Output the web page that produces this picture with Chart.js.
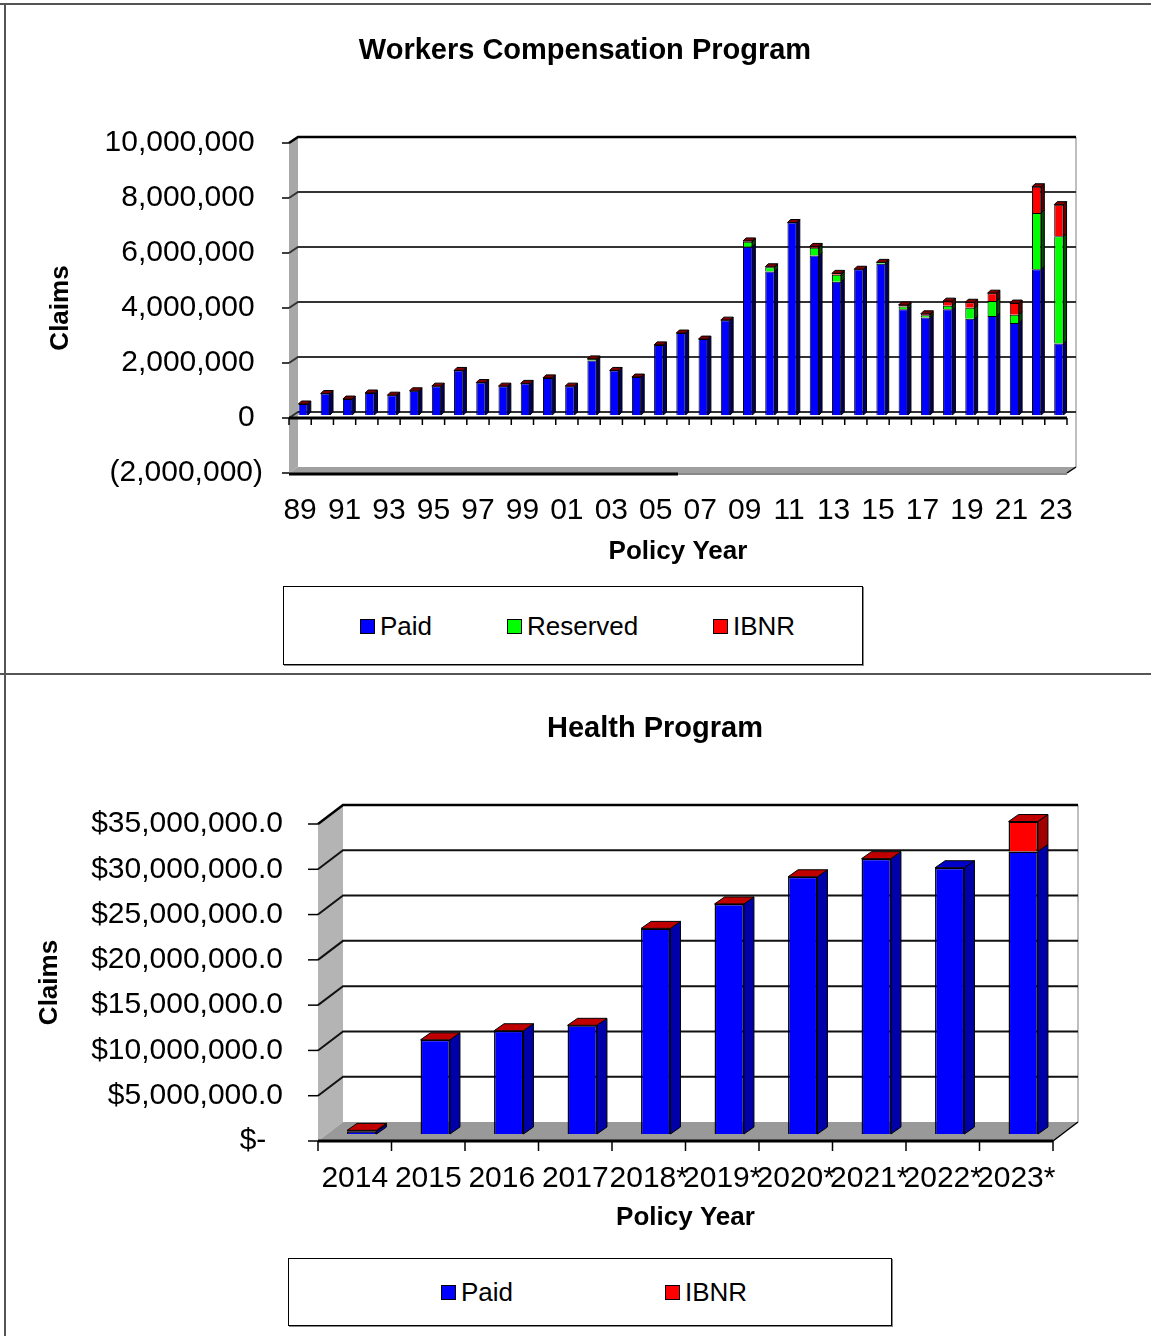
<!DOCTYPE html>
<html>
<head>
<meta charset="utf-8">
<title>Workers Compensation / Health Program claims</title>
<script src="https://cdn.jsdelivr.net/npm/chart.js@4.4.1/dist/chart.umd.min.js"></script>
<style>
  body { margin: 0; background: #fff; font-family: "Liberation Sans", Arial, sans-serif; }
  #page { position: relative; width: 1151px; height: 1336px; overflow: hidden; background: #fff; }
  canvas { position: absolute; left: 0; }
  .rule { position: absolute; background: #555; }
  .title { position: absolute; left: 0; font-size: 29px; font-weight: bold; line-height: 34px; text-align: center; }
  .legend { position: absolute; border: 1px solid #000; box-shadow: 1px 1px 0 #888; background: #fff; }
  .legend .item { position: absolute; font-size: 26px; line-height: 30px; white-space: nowrap; }
  .legend .sw { display: inline-block; width: 13px; height: 13px; border: 1px solid #000; margin-right: 5px; vertical-align: 1px; }
</style>
</head>
<body>
<div id="page">
  <canvas id="wc-chart" width="1151" height="580" style="top:0"></canvas>
  <canvas id="hp-chart" width="1151" height="570" style="top:680px"></canvas>

  <div class="rule" style="left:0;top:3px;width:1151px;height:2px"></div>
  <div class="rule" style="left:4px;top:3px;width:2px;height:1333px"></div>
  <div class="rule" style="left:0;top:673px;width:1151px;height:2px"></div>

  <div class="title" style="top:32px;width:1170px">Workers Compensation Program</div>
  <div class="title" style="top:710px;width:1310px">Health Program</div>

  <div class="legend" style="left:283px;top:586px;width:578px;height:77px">
    <div class="item" style="left:76px;top:24px"><span class="sw" style="background:#0000ff"></span>Paid</div>
    <div class="item" style="left:223px;top:24px"><span class="sw" style="background:#00ff00"></span>Reserved</div>
    <div class="item" style="left:429px;top:24px"><span class="sw" style="background:#ff0000"></span>IBNR</div>
  </div>
  <div class="legend" style="left:288px;top:1258px;width:602px;height:66px">
    <div class="item" style="left:152px;top:18px"><span class="sw" style="background:#0000ff"></span>Paid</div>
    <div class="item" style="left:376px;top:18px"><span class="sw" style="background:#ff0000"></span>IBNR</div>
  </div>
</div>

<script>
// ── Workers Compensation data (policy years 1989–2023) ──
const wcYears = ["89", "90", "91", "92", "93", "94", "95", "96", "97", "98", "99", "00",
                 "01", "02", "03", "04", "05", "06", "07", "08", "09", "10", "11", "12",
                 "13", "14", "15", "16", "17", "18", "19", "20", "21", "22", "23"];
const wcPaid = [400000, 780000, 580000, 800000, 720000, 880000, 1050000, 1620000, 1180000,
                1050000, 1150000, 1350000, 1050000, 1980000, 1620000, 1380000, 2550000,
                2980000, 2760000, 3450000, 6120000, 5220000, 7000000, 5800000, 4850000,
                5300000, 5500000, 3850000, 3550000, 3850000, 3500000, 3600000, 3350000,
                5300000, 2600000];
const wcReserved = [0, 0, 0, 0, 0, 0, 0, 0, 0, 0, 0, 0, 0, 60000, 0, 0, 0, 0, 0, 0,
                    180000, 150000, 0, 280000, 250000, 0, 50000, 100000, 80000, 120000,
                    400000, 550000, 300000, 2050000, 3900000];
const wcIbnr = [0, 0, 0, 0, 0, 0, 0, 0, 0, 0, 0, 0, 0, 0, 0, 0, 0, 0, 0, 0,
                30000, 20000, 0, 50000, 50000, 0, 0, 50000, 50000, 170000,
                200000, 280000, 420000, 950000, 1150000];
const wcYTicks = [-2000000, 0, 2000000, 4000000, 6000000, 8000000, 10000000];

// ── Health Program data ──
const hpYears = ["2014", "2015", "2016", "2017", "2018*", "2019*", "2020*", "2021*", "2022*", "2023*"];
const hpPaid = [300000, 10400000, 11400000, 12000000, 22700000, 25400000, 28400000, 30400000, 29400000, 31200000];
const hpIbnr = [100000, 0, 0, 0, 0, 0, 0, 0, null, 3300000];
const hpYTicks = [0, 5000000, 10000000, 15000000, 20000000, 25000000, 30000000, 35000000];

Chart.defaults.font.family = "'Liberation Sans', Arial, sans-serif";
Chart.defaults.color = "#000";

// ── Fake 3D: walls, floor, back gridlines, bar sides and tops ──
function poly(ctx, pts, fill) {
  ctx.beginPath();
  ctx.moveTo(pts[0][0], pts[0][1]);
  for (let i = 1; i < pts.length; i++) ctx.lineTo(pts[i][0], pts[i][1]);
  ctx.closePath();
  ctx.fillStyle = fill;
  ctx.fill();
  ctx.stroke();
}

function line(ctx, x1, y1, x2, y2) {
  ctx.beginPath();
  ctx.moveTo(x1, y1);
  ctx.lineTo(x2, y2);
  ctx.stroke();
}

const fake3d = {
  id: "fake3d",
  beforeDatasetsDraw(chart, args, o) {
    const { ctx, chartArea: a, scales: { y } } = chart;
    const wx = o.wallX, wy = o.wallY;
    ctx.save();
    ctx.strokeStyle = "rgba(0,0,0,0)";
    poly(ctx, [[a.left, a.top], [a.left + wx, a.top - wy], [a.left + wx, a.bottom - wy], [a.left, a.bottom]], o.wallColor);
    poly(ctx, [[a.left, a.bottom], [a.left + wx, a.bottom - wy], [a.right + wx, a.bottom - wy], [a.right, a.bottom]], o.floorColor);

    // back wall right edge
    ctx.strokeStyle = "#aaa";
    ctx.lineWidth = 1.5;
    line(ctx, a.right + wx, a.top - wy, a.right + wx, a.bottom - wy);

    // gridlines, running along the side wall then the back wall
    y.ticks.forEach(t => {
      if (t.value === y.min) return;
      const py = y.getPixelForValue(t.value);
      ctx.strokeStyle = t.value === y.max ? "#000" : o.gridColor;
      ctx.lineWidth = t.value === y.max ? 2.5 : 2;
      ctx.beginPath();
      ctx.moveTo(a.left, py);
      ctx.lineTo(a.left + wx, py - wy);
      ctx.lineTo(a.right + wx, py - wy);
      ctx.stroke();
    });

    // front value-axis tick marks
    ctx.strokeStyle = "#000";
    ctx.lineWidth = 1.5;
    y.ticks.forEach(t => {
      const py = y.getPixelForValue(t.value);
      line(ctx, a.left - o.tickLen, py, a.left, py);
    });
    ctx.restore();

    ctx.save();
    ctx.translate(o.barX, -o.barY);
  },
  afterDatasetsDraw(chart, args, o) {
    const { ctx, data, chartArea: a, scales: { y } } = chart;
    const dx = o.depthX, dy = o.depthY;
    ctx.lineWidth = 1;
    ctx.strokeStyle = "#000";

    data.datasets.forEach((ds, i) => {
      chart.getDatasetMeta(i).data.forEach((bar, j) => {
        if (!ds.data[j]) return;
        const { x, y: top, base, width } = bar.getProps(["x", "y", "base", "width"], true);
        const r = x + width / 2;
        poly(ctx, [[r, top], [r + dx, top - dy], [r + dx, base - dy], [r, base]], ds.sideColor);
      });
    });

    for (let j = 0; j < data.labels.length; j++) {
      let top = -1;
      data.datasets.forEach((ds, i) => { if (ds.data[j] != null) top = i; });
      if (top < 0) continue;
      const { x, y: ty, width } = chart.getDatasetMeta(top).data[j].getProps(["x", "y", "width"], true);
      const l = x - width / 2, r = x + width / 2;
      poly(ctx, [[l, ty], [l + dx, ty - dy], [r + dx, ty - dy], [r, ty]], data.datasets[top].topColor);
    }
    ctx.restore();

    // category axis at zero, with tick marks between categories
    ctx.save();
    const y0 = y.getPixelForValue(0);
    ctx.strokeStyle = "#000";
    ctx.lineWidth = 3;
    line(ctx, a.left, y0, a.right, y0);
    ctx.lineWidth = 1.5;
    const n = data.labels.length;
    for (let k = 0; k <= n; k++) {
      const px = a.left + k * (a.right - a.left) / n;
      line(ctx, px, y0, px, y0 + o.tickLen);
    }
    // front edge of the floor
    if (y.min < 0) {
      const split = a.left + (a.right - a.left) * 0.5;
      ctx.lineWidth = 3;
      line(ctx, a.left, a.bottom + 1, split, a.bottom + 1);
      ctx.strokeStyle = "#888";
      ctx.lineWidth = 2;
      line(ctx, split, a.bottom + 1, a.right, a.bottom + 1);
    }
    ctx.strokeStyle = "#000";
    ctx.lineWidth = 1.5;
    line(ctx, a.right, a.bottom, a.right + o.wallX, a.bottom - o.wallY);
    ctx.restore();
  }
};

function axisTitle(text, padding) {
  return { display: true, text, font: { size: 26, weight: "bold" }, padding };
}

// ── Workers Compensation chart ──
new Chart(document.getElementById("wc-chart"), {
  type: "bar",
  data: {
    labels: wcYears,
    datasets: [
      { label: "Paid", data: wcPaid, backgroundColor: "#0000ff", sideColor: "#000060", topColor: "#000080" },
      { label: "Reserved", data: wcReserved, backgroundColor: "#00ff00", sideColor: "#005000", topColor: "#007000" },
      { label: "IBNR", data: wcIbnr, backgroundColor: "#ff0000", sideColor: "#600000", topColor: "#800000" },
    ],
  },
  options: {
    responsive: false,
    animation: false,
    layout: { padding: { left: 0, right: 84, top: 143, bottom: 0 } },
    datasets: { bar: { barPercentage: 0.42, categoryPercentage: 1, borderColor: "#000", borderWidth: 1, clip: false } },
    plugins: {
      legend: { display: false },
      tooltip: { enabled: false },
      fake3d: { wallX: 9, wallY: 6, barX: 3, barY: 3, depthX: 3, depthY: 3, tickLen: 7,
                wallColor: "#a8a8a8", floorColor: "#a0a0a0", gridColor: "#333" },
    },
    scales: {
      x: {
        stacked: true,
        grid: { display: false },
        border: { display: false },
        ticks: {
          autoSkip: false, maxRotation: 0, padding: 12, font: { size: 30 },
          callback: (v, i) => (i % 2 === 0 ? wcYears[i] : ""),
        },
        title: axisTitle("Policy Year", { top: 0, bottom: 13 }),
        afterFit: s => { s.height = 580 - 473; },
      },
      y: {
        stacked: true,
        min: -2000000,
        max: 10000000,
        grid: { display: false },
        border: { display: false },
        afterBuildTicks: s => { s.ticks = wcYTicks.map(v => ({ value: v })); },
        ticks: {
          padding: 18, font: { size: 30 },
          callback: v => (v < 0 ? "(" + Math.abs(v).toLocaleString("en-US") + ")" : v.toLocaleString("en-US") + " "),
        },
        title: axisTitle("Claims", { top: 45, bottom: 0 }),
        afterFit: s => { s.width = 289; },
      },
    },
  },
  plugins: [fake3d],
});

// ── Health Program chart ──
new Chart(document.getElementById("hp-chart"), {
  type: "bar",
  data: {
    labels: hpYears,
    datasets: [
      { label: "Paid", data: hpPaid, backgroundColor: "#0000ff", sideColor: "#0000a8", topColor: "#0000c8" },
      { label: "IBNR", data: hpIbnr, backgroundColor: "#ff0000", sideColor: "#a00000", topColor: "#c00000" },
    ],
  },
  options: {
    responsive: false,
    animation: false,
    layout: { padding: { left: 0, right: 98, top: 144, bottom: 0 } },
    datasets: { bar: { barPercentage: 0.4, categoryPercentage: 1, borderColor: "#000", borderWidth: 1.5, clip: false } },
    plugins: {
      legend: { display: false },
      tooltip: { enabled: false },
      fake3d: { wallX: 25, wallY: 19, barX: 7, barY: 7, depthX: 10, depthY: 7, tickLen: 10,
                wallColor: "#b4b4b4", floorColor: "#999", gridColor: "#111" },
    },
    scales: {
      x: {
        stacked: true,
        grid: { display: false },
        border: { display: false },
        ticks: { autoSkip: false, maxRotation: 0, padding: 12, font: { size: 30 } },
        title: axisTitle("Policy Year", { top: 0, bottom: 17 }),
        afterFit: s => { s.height = 570 - 461; },
      },
      y: {
        stacked: true,
        min: 0,
        max: 35000000,
        grid: { display: false },
        border: { display: false },
        afterBuildTicks: s => { s.ticks = hpYTicks.map(v => ({ value: v })); },
        ticks: {
          padding: 27, font: { size: 30 },
          callback: v => (v === 0 ? "$-  " : "$" + v.toLocaleString("en-US") + ".0"),
        },
        title: axisTitle("Claims", { top: 34, bottom: 0 }),
        afterFit: s => { s.width = 318; },
      },
    },
  },
  plugins: [fake3d],
});
</script>
</body>
</html>
